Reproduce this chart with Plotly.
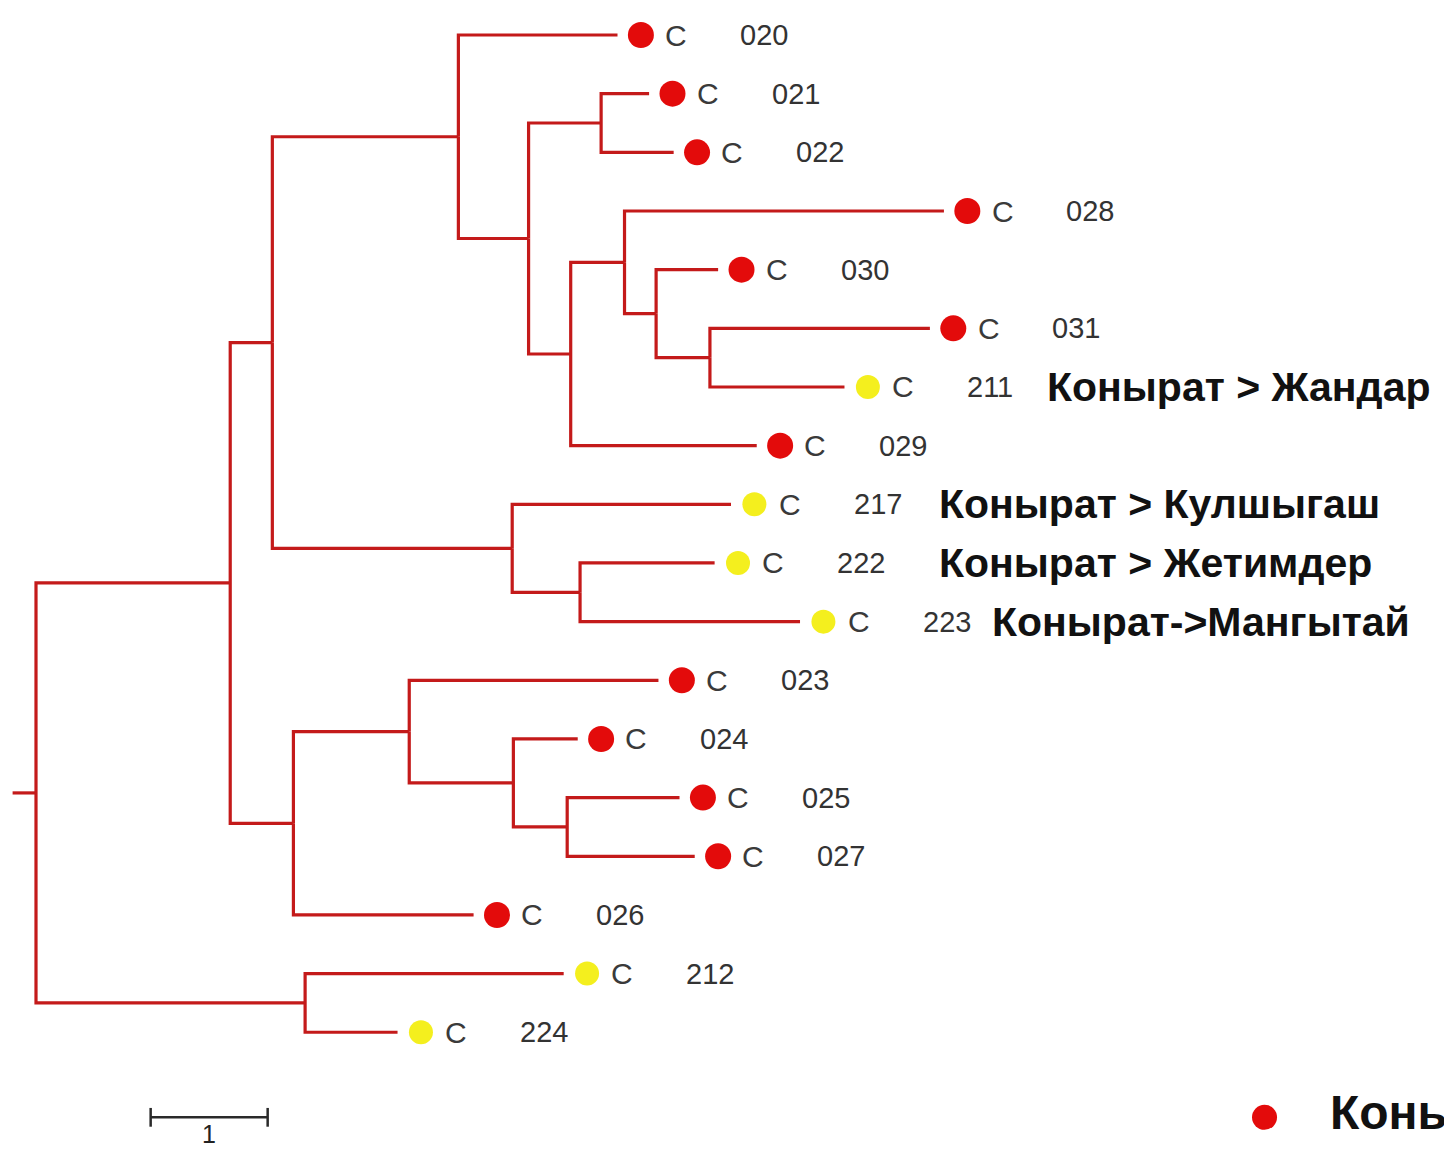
import plotly.graph_objects as go

# ---------------- data ----------------
leaf_names = ["020", "021", "022", "028", "030", "031", "211", "029", "217",
              "222", "223", "023", "024", "025", "027", "026", "212", "224"]
leaf_parent = ["D", "F", "F", "H", "I", "J", "J", "G", "K",
               "M", "M", "N", "O", "P", "P", "L", "Z", "Z"]
leaf_depth = [4.97, 5.24, 5.45, 7.76, 5.83, 7.64, 6.91, 6.16, 5.94,
              5.80, 6.53, 5.32, 4.63, 5.50, 5.63, 3.74, 4.51, 3.09]
leaf_group = ["red", "red", "red", "red", "red", "red", "yellow", "red", "yellow",
              "yellow", "yellow", "red", "red", "red", "red", "red", "yellow", "yellow"]
leaf_prefix = "C"

node_names = ["A", "B", "Z", "C", "L", "D", "K", "E", "F", "G", "H", "I", "J", "M", "N", "O", "P"]
node_parent = [None, "A", "A", "B", "B", "C", "C", "D", "E", "E", "G", "H", "I", "K", "L", "N", "O"]
node_depth = [0.0, 1.66, 2.30, 2.02, 2.20, 3.61, 4.07, 4.21, 4.83, 4.57, 5.03, 5.30, 5.76, 4.65, 3.19, 4.08, 4.54]
root_stub = -0.20

extra_labels = {"211": "Конырат > Жандар", "217": "Конырат > Кулшыгаш",
                "222": "Конырат > Жетимдер", "223": "Конырат->Мангытай"}
legend_text = "Конырат"
scale_length = 1
scale_label = "1"

# ---------------- styling / layout positions ----------------
label_x = {"211": 8.62, "217": 7.70, "222": 7.70, "223": 8.15}
group_color = {"red": "#e30b0b", "yellow": "#f4ef1e"}
group_size = {"red": 26, "yellow": 24}
line_color = "#c41a1a"
marker_gap = 0.20
c_gap = 0.19
num_gap = 0.83
SANS = "Liberation Sans, Arial, sans-serif"

# ---------------- build tree geometry ----------------
depth = {n: d for n, d in zip(node_names, node_depth)}
parent = {n: p for n, p in zip(node_names, node_parent)}
for n, p, d in zip(leaf_names, leaf_parent, leaf_depth):
    depth[n] = d
    parent[n] = p
children = {}
for n, p in parent.items():
    if p is not None:
        children.setdefault(p, []).append(n)

ypos = {n: i for i, n in enumerate(leaf_names)}


def get_y(n):
    if n in ypos:
        return ypos[n]
    ys = [get_y(c) for c in children[n]]
    ypos[n] = (min(ys) + max(ys)) / 2
    return ypos[n]


root = node_names[node_parent.index(None)]
get_y(root)

xs, ys = [], []
for n, p in parent.items():
    if p is None:
        continue
    xs += [depth[p], depth[p], depth[n], None]
    ys += [ypos[p], ypos[n], ypos[n], None]
xs += [root_stub, depth[root], None]
ys += [ypos[root], ypos[root], None]

fig = go.Figure()
fig.add_trace(go.Scatter(x=xs, y=ys, mode="lines",
                         line=dict(color=line_color, width=3.2),
                         hoverinfo="skip", showlegend=False))

for g in ["red", "yellow"]:
    idx = [i for i, gg in enumerate(leaf_group) if gg == g]
    fig.add_trace(go.Scatter(
        x=[leaf_depth[i] + marker_gap for i in idx],
        y=[ypos[leaf_names[i]] for i in idx],
        mode="markers",
        marker=dict(color=group_color[g], size=group_size[g], line=dict(width=0)),
        hoverinfo="skip", showlegend=False))

annotations = []
for i, n in enumerate(leaf_names):
    mx = leaf_depth[i] + marker_gap
    annotations.append(dict(x=mx + c_gap, y=i, text=leaf_prefix, xanchor="left", yanchor="middle",
                            showarrow=False, font=dict(family=SANS, size=30, color="#3a3a3a")))
    annotations.append(dict(x=mx + num_gap, y=i, text=n, xanchor="left", yanchor="middle",
                            showarrow=False, font=dict(family=SANS, size=29, color="#333333")))
    if n in extra_labels:
        annotations.append(dict(x=label_x[n], y=i, text="<b>" + extra_labels[n] + "</b>",
                                xanchor="left", yanchor="middle", showarrow=False,
                                font=dict(family=SANS, size=41, color="#111111")))

# scale bar
sb_x0 = 0.98
sb_y = 18.45
fig.add_trace(go.Scatter(x=[sb_x0, sb_x0 + scale_length], y=[sb_y, sb_y], mode="lines",
                         line=dict(color="#2a2a2a", width=2.5), hoverinfo="skip", showlegend=False))
for xx in [sb_x0, sb_x0 + scale_length]:
    fig.add_trace(go.Scatter(x=[xx, xx], y=[sb_y - 0.16, sb_y + 0.16], mode="lines",
                             line=dict(color="#2a2a2a", width=2.5), hoverinfo="skip", showlegend=False))
annotations.append(dict(x=sb_x0 + scale_length / 2, y=18.74, text=scale_label, xanchor="center",
                        yanchor="middle", showarrow=False,
                        font=dict(family=SANS, size=25, color="#222222")))

# legend (bottom right)
fig.add_trace(go.Scatter(x=[10.50], y=[sb_y], mode="markers",
                         marker=dict(color=group_color["red"], size=25), hoverinfo="skip", showlegend=False))
annotations.append(dict(x=11.04, y=sb_y - 0.08, text="<b>" + legend_text + "</b>", xanchor="left",
                        yanchor="middle", showarrow=False,
                        font=dict(family=SANS, size=48, color="#111111")))

fig.update_layout(
    width=1444, height=1149,
    margin=dict(l=0, r=0, t=0, b=0),
    paper_bgcolor="white", plot_bgcolor="white",
    xaxis=dict(range=[-0.3077, 12.034], visible=False, fixedrange=True),
    yaxis=dict(range=[18.99, -0.597], visible=False, fixedrange=True),
    annotations=annotations,
    showlegend=False,
)

fig.write_html("out.html", config={"displayModeBar": False},
               post_script="document.body.style.margin='0';document.body.style.overflow='hidden';")
